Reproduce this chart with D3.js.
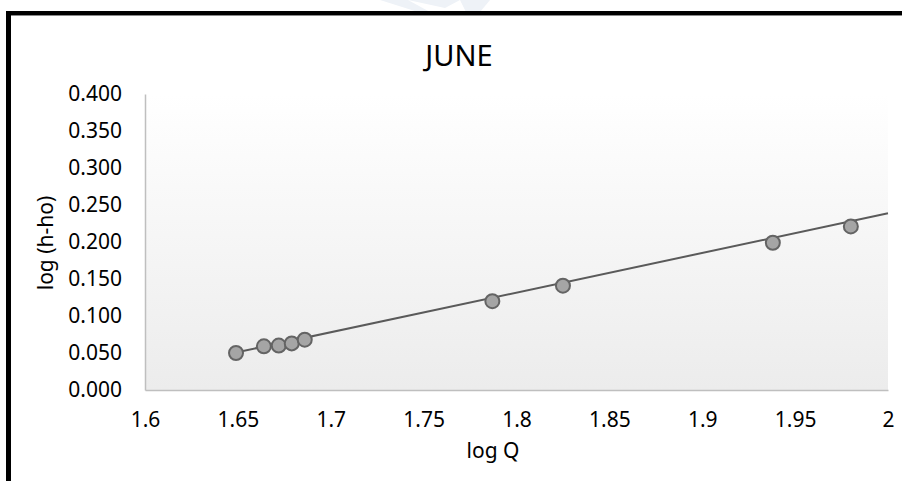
<!DOCTYPE html>
<html>
<head>
<meta charset="utf-8">
<script src="https://cdn.jsdelivr.net/npm/d3@7"></script>
<style>
  html, body { margin: 0; padding: 0; background: #ffffff; }
  svg { display: block; }
  text { font-family: "Noto Sans", "Open Sans", sans-serif; fill: #000; }
</style>
</head>
<body>
<svg id="chart" width="902" height="481"></svg>
<script>
// ---- data ----
const title = "JUNE";
const xLabel = "log Q";
const yLabel = "log (h-ho)";
const logQ   = [1.649, 1.664, 1.672, 1.679, 1.686, 1.787, 1.825, 1.938, 1.980];
const logH   = [0.050, 0.059, 0.060, 0.063, 0.068, 0.120, 0.141, 0.199, 0.221];
const trendX = [1.649, 2.0];
const trendY = [0.0507, 0.2388];
const xTicks = [1.6, 1.65, 1.7, 1.75, 1.8, 1.85, 1.9, 1.95, 2];
const xTickLabels = ["1.6", "1.65", "1.7", "1.75", "1.8", "1.85", "1.9", "1.95", "2"];
const yTicks = [0, 0.05, 0.1, 0.15, 0.2, 0.25, 0.3, 0.35, 0.4];
const yTickLabels = ["0.000", "0.050", "0.100", "0.150", "0.200", "0.250", "0.300", "0.350", "0.400"];

const svg = d3.select("#chart");
const plot = { left: 145, right: 888, top: 94, bottom: 390 };

const x = d3.scaleLinear().domain([1.6, 2.0]).range([plot.left, plot.right]);
const y = d3.scaleLinear().domain([0, 0.4]).range([plot.bottom, plot.top]);

// faint watermark at the top
svg.append("path")
  .attr("d", "M380,0 L408,0 L430,12 L418,12 Z M460,0 L490,0 L480,12 L466,12 Z M408,0 L460,0 L445,8 Z")
  .attr("fill", "#eef2f7");

// plot area gradient
const defs = svg.append("defs");
const grad = defs.append("linearGradient").attr("id", "pa").attr("x1", 0).attr("y1", 0).attr("x2", 0).attr("y2", 1);
grad.append("stop").attr("offset", "0%").attr("stop-color", "#ffffff");
grad.append("stop").attr("offset", "100%").attr("stop-color", "#ececec");
svg.append("rect")
  .attr("x", plot.left).attr("y", plot.top)
  .attr("width", plot.right - plot.left).attr("height", plot.bottom - plot.top)
  .attr("fill", "url(#pa)");

// frame border (top and left)
svg.append("rect").attr("x", 6).attr("y", 11).attr("width", 896).attr("height", 4).attr("fill", "#000");
svg.append("rect").attr("x", 6).attr("y", 15).attr("width", 5).attr("height", 466).attr("fill", "#000");
svg.append("rect").attr("x", 11).attr("y", 15).attr("width", 891).attr("height", 1).attr("fill", "#8a8a8a");

// axes
const xAxis = d3.axisBottom(x).tickValues(xTicks).tickFormat((d, i) => xTickLabels[i]).tickSize(0).tickPadding(22);
const gx = svg.append("g").attr("transform", `translate(0,${plot.bottom})`).call(xAxis);
gx.select(".domain").attr("stroke", "#bfbfbf").attr("stroke-width", 1.5);
gx.selectAll("text").attr("font-size", 21).attr("font-family", "'Noto Sans', sans-serif").attr("fill", "#000");

const yAxis = d3.axisLeft(y).tickValues(yTicks).tickFormat((d, i) => yTickLabels[i]).tickSize(0).tickPadding(23);
const gy = svg.append("g").attr("transform", `translate(${plot.left},0)`).call(yAxis);
gy.select(".domain").attr("stroke", "#bfbfbf").attr("stroke-width", 1.5);
gy.selectAll("text").attr("font-size", 21).attr("font-family", "'Noto Sans', sans-serif").attr("fill", "#000");

// trendline
const line = d3.line().x(d => x(d[0])).y(d => y(d[1]));
svg.append("path")
  .datum(d3.zip(trendX, trendY))
  .attr("d", line)
  .attr("fill", "none")
  .attr("stroke", "#5a5a5a")
  .attr("stroke-width", 2);

// points
svg.append("g").selectAll("circle")
  .data(d3.zip(logQ, logH))
  .join("circle")
  .attr("cx", d => x(d[0]))
  .attr("cy", d => y(d[1]))
  .attr("r", 7)
  .attr("fill", "#a5a5a5")
  .attr("stroke", "#646464")
  .attr("stroke-width", 2);

// title
svg.append("text")
  .attr("x", 459).attr("y", 66)
  .attr("text-anchor", "middle")
  .attr("font-size", 29)
  .text(title);

// axis titles
svg.append("text")
  .attr("x", 493).attr("y", 458)
  .attr("text-anchor", "middle")
  .attr("font-size", 21)
  .text(xLabel);

svg.append("text")
  .attr("transform", "translate(53,243) rotate(-90)")
  .attr("text-anchor", "middle")
  .attr("font-size", 21)
  .text(yLabel);
</script>
</body>
</html>
